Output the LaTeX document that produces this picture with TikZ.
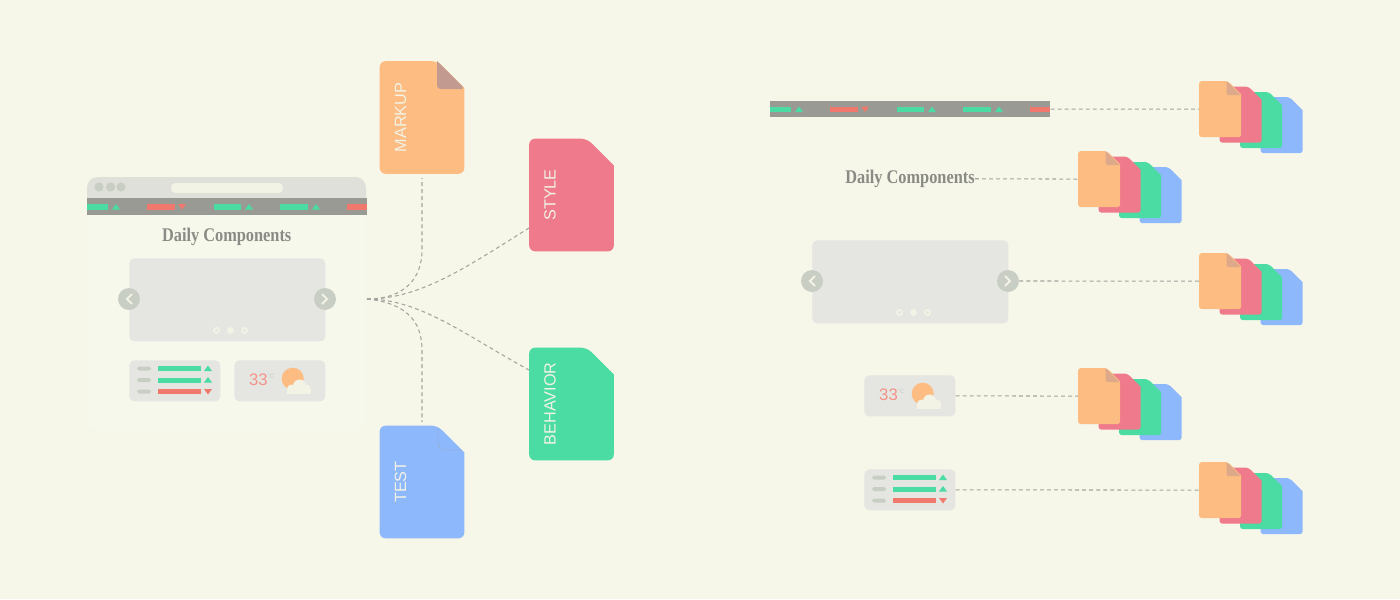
\documentclass[tikz,border=0pt]{standalone}
\usepackage{graphicx}
\usepackage{fontspec}
\setmainfont{Liberation Sans}
\newfontfamily\titlefont{Liberation Serif}
\usetikzlibrary{positioning}

\definecolor{paper}{HTML}{F6F6E9}
\definecolor{pagetone}{HTML}{F7F8EC}
\definecolor{chrometone}{HTML}{DEE0D9}
\definecolor{navtone}{HTML}{999A93}
\definecolor{knobtone}{HTML}{C9CEC5}
\definecolor{boxtone}{HTML}{E5E5E2}
\definecolor{creamtone}{HTML}{F2F2E5}
\definecolor{linktone}{HTML}{A3A49D}
\definecolor{titletone}{HTML}{8A8B85}
\definecolor{foldtone}{HTML}{C39A90}
\definecolor{docorange}{HTML}{FDBC82}
\definecolor{docred}{HTML}{EE7A8B}
\definecolor{docgreen}{HTML}{4ADCA2}
\definecolor{docblue}{HTML}{8DB8FB}
\definecolor{barred}{HTML}{F0786C}

\tikzset{
  docbig/.style={inner sep=0,minimum width=1.68cm,minimum height=2.24cm},
  docsmall/.style={inner sep=0,minimum width=0.83cm,minimum height=1.11cm,anchor=north west},
  doclabel/.style={rotate=90,text=creamtone,font=\fontsize{9.25}{11}\selectfont,inner sep=0},
  navbox/.style={inner sep=0,minimum width=5.6cm,minimum height=0.33cm,fill=navtone,anchor=north west},
  widgetbox/.style={inner sep=0,minimum width=1.82cm,minimum height=0.82cm,fill=boxtone,rounded corners=2.8pt,anchor=north west},
  slidebox/.style={inner sep=0,minimum width=3.92cm,minimum height=1.66cm,fill=boxtone,rounded corners=2.8pt,anchor=north west},
  knob/.style={circle,inner sep=0,minimum size=0.44cm,fill=knobtone},
  pagetitle/.style={text=titletone,font=\titlefont\bfseries\fontsize{11}{13}\selectfont,inner sep=0},
  link/.style={draw=linktone,line width=0.6pt,dash pattern=on 2.2pt off 1.8pt}
}

% big file with cut corner
\newcommand{\docpath}[3]{
  \fill[#2,rounded corners=#3] (#1.south west) -- (#1.north west)
    -- ([xshift=-#3*4.5]#1.north east) [sharp corners] -- ([yshift=-#3*4.5]#1.north east)
    [rounded corners=#3] -- (#1.south east) -- cycle;
}
\newcommand{\docbig}[4]{
  \node[docbig] (#1) at (#2) {};
  \docpath{#1}{#3}{3.4pt}
  \node[doclabel] (#1text) at ([xshift=11.9pt]#1.west) {#4};
}
\newcommand{\docstack}[3]{
  \begin{scope}[shift={(#2,#3)}]
    \node[docsmall] (#1d) at (61.5,16) {};
    \docpath{#1d}{docblue}{1.7pt}
    \node[docsmall] (#1c) at (41,11) {};
    \docpath{#1c}{docgreen}{1.7pt}
    \node[docsmall] (#1b) at (20.5,5.5) {};
    \docpath{#1b}{docred}{1.7pt}
    \node[docsmall] (#1a) at (0,0) {};
    \docpath{#1a}{docorange}{1.7pt}
    \fill[foldtone!55!docorange] (27.5,0) -- (41.5,14) -- (29,14) -- (27.5,12.5) -- cycle;
  \end{scope}
}
% nav strip with ticker marks
\newcommand{\navstrip}[3]{
  \node[navbox] (#1) at (#2,#3) {};
  \begin{scope}[shift={(#2,#3)}]
    \foreach \bx/\bw in {0/20.5,127/27,193/28} \fill[docgreen] (\bx,6) rectangle ++(\bw,5.5);
    \foreach \bx/\bw in {60/27.5,260/20} \fill[barred] (\bx,6) rectangle ++(\bw,5.5);
    \foreach \tx in {25,158,225} \fill[docgreen] (\tx,11.5) -- ++(8,0) -- ++(-4,-5.5) -- cycle;
    \fill[barred] (91,6) -- ++(8,0) -- ++(-4,5.5) -- cycle;
  \end{scope}
}
\newcommand{\titletext}[3]{
  \node[pagetitle] (#1) at (#2,#3) {\scalebox{0.845}[1]{Daily Components}};
}
\newcommand{\slider}[3]{
  \node[slidebox] (#1) at (#2,#3) {};
  \node[knob] (#1l) at (#2,#3+41) {};
  \node[knob] (#1r) at (#2+196,#3+41) {};
  \begin{scope}[shift={(#2,#3)}]
    \draw[creamtone,line width=1.1pt] (3,36) -- (-2,41) -- (3,46);
    \draw[creamtone,line width=1.1pt] (193,36) -- (198,41) -- (193,46);
    \fill[creamtone] (101.5,72.5) circle (3.4);
    \foreach \dx in {87.5,115.5} \draw[creamtone,line width=1pt] (\dx,72.5) circle (2.6);
  \end{scope}
}
\newcommand{\tickerbox}[3]{
  \node[widgetbox] (#1) at (#2,#3) {};
  \begin{scope}[shift={(#2,#3)}]
    \foreach \ry/\rc in {8.5/docgreen,20/docgreen,31.5/barred} {
      \fill[knobtone,rounded corners=1pt] (8,\ry-2) rectangle ++(14,4);
      \fill[\rc] (29,\ry-2.5) rectangle ++(42.5,5);
    }
    \foreach \ry in {8.5,20} \fill[docgreen] (75,\ry+2.5) -- ++(8,0) -- ++(-4,-5.5) -- cycle;
    \fill[barred] (75,29) -- ++(8,0) -- ++(-4,5.5) -- cycle;
  \end{scope}
}
\newcommand{\weatherbox}[3]{
  \node[widgetbox] (#1) at (#2,#3) {};
  \begin{scope}[shift={(#2,#3)}]
    \node[text=barred!80!white,font=\fontsize{9.5}{11}\selectfont,inner sep=0] (#1temp) at (24.5,19.5) {33};
    \node[text=knobtone,font=\fontsize{3.6}{4}\selectfont,inner sep=0] (#1unit) at (37,16) {°C};
    \fill[docorange] (58.7,18.7) circle (11);
    \fill[creamtone] (57.5,29) circle (4.5) (65.5,26) circle (6.5) (72.5,29) circle (4.5);
    \fill[creamtone] (53,29) rectangle (77,33.5);
  \end{scope}
}

\begin{document}
\begin{tikzpicture}[x=0.02cm,y=-0.02cm]
\useasboundingbox (0,0) rectangle (1400,599);
\fill[paper] (0,0) rectangle (1400,599);

% browser on the left
\fill[pagetone,rounded corners=5pt] (87,205) rectangle (366,430);
\fill[chrometone] (87,198) [rounded corners=6pt] -- (87,177) -- (366,177) [sharp corners] -- (366,198) -- cycle;
\fill[creamtone,rounded corners=2.5pt] (171,183) rectangle (283,193);
\foreach \cx in {99,110.5,121} \fill[knobtone] (\cx,187) circle (4.6);
\navstrip{navmain}{87}{198}
\titletext{titlemain}{226.7}{236.5}
\slider{slidemain}{129}{258}
\tickerbox{tickermain}{129}{360}
\weatherbox{weathermain}{234}{360}

% the four files
\docbig{markup}{422,117.5}{docorange}{MARKUP}
\fill[foldtone,rounded corners=2pt] (437,61) -- (437,89) -- (465,89) [sharp corners] -- cycle;
\docbig{stylefile}{571.5,195}{docred}{STYLE}
\docbig{behavior}{571.5,404}{docgreen}{BEHAVIOR}
\docbig{testfile}{422,482}{docblue}{TEST}
\draw[linktone,line width=0.5pt,densely dotted,rounded corners=3pt] (438,429) -- (438,450) -- (462,450);

\coordinate (hub) at (367,299);
\coordinate (stylein) at (529,228);
\coordinate (behaviorin) at (529,370);
\coordinate (markupin) at (422,178);
\coordinate (testin) at (422,422);
\draw[link] (hub) .. controls (405,299) and (422,278) .. (422,250) -- (markupin);
\draw[link] (hub) .. controls (405,303) and (422,320) .. (422,350) -- (testin);
\draw[link] (hub) .. controls (420,299) and (465,268) .. (stylein);
\draw[link] (hub) .. controls (420,299) and (465,335) .. (behaviorin);

% pieces on the right
\navstrip{navpart}{770}{100.5}
\titletext{titlepart}{910}{178.75}
\slider{slidepart}{812}{240}
\weatherbox{weatherpart}{864}{375}
\tickerbox{tickerpart}{864}{469}

\docstack{stacka}{1199}{81}
\docstack{stackb}{1078}{151}
\docstack{stackc}{1199}{253}
\docstack{stackd}{1078}{368}
\docstack{stacke}{1199}{462}

\draw[link] (navpart.east) -- (stackaa.west);
\draw[link] (titlepart.east) -- (stackba.west);
\draw[link] (slidepartr.east) -- (stackca.west);
\draw[link] (weatherpart.east) -- (stackda.west);
\draw[link] (tickerpart.east) -- (stackea.west);
\end{tikzpicture}
\end{document}
